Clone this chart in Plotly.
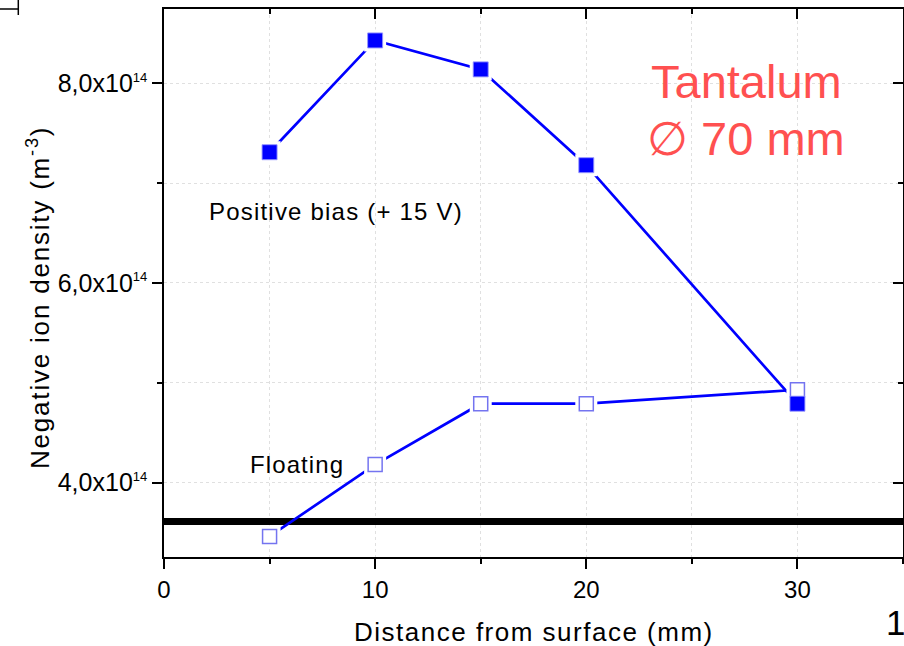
import plotly.graph_objects as go

# Measured negative ion density versus distance from the tantalum surface
distance_mm = [5, 10, 15, 20, 30]
positive_bias = [7.31e14, 8.43e14, 8.14e14, 7.18e14, 4.79e14]
floating = [3.46e14, 4.18e14, 4.79e14, 4.79e14, 4.93e14]

# Reference density level drawn across the whole distance range
ref_x = [0, 35]
ref_level = [3.61e14, 3.61e14]

y_tick_vals = [4e14, 6e14, 8e14]
y_tick_text = ["4,0x10", "6,0x10", "8,0x10"]
x_tick_vals = [0, 10, 20, 30]

FONT = "Liberation Sans, Arial, sans-serif"
BLUE = "#0000ff"
SUP = "<sup><span style='font-size:13px'>14</span></sup>"


def spaced(text, px):
    return f"<span style='letter-spacing:{px}px'>{text}</span>"


fig = go.Figure()

fig.add_trace(go.Scatter(
    x=ref_x, y=ref_level, mode="lines",
    line=dict(color="black", width=7), hoverinfo="skip"))

# connecting lines
for ys in (floating, positive_bias):
    fig.add_trace(go.Scatter(
        x=distance_mm, y=ys, mode="lines",
        line=dict(color=BLUE, width=2.7)))

# white halo that opens a small gap in the line around each symbol
for ys in (floating, positive_bias):
    fig.add_trace(go.Scatter(
        x=distance_mm, y=ys, mode="markers",
        marker=dict(symbol="square", size=22, color="white",
                    line=dict(width=0))))

fig.add_trace(go.Scatter(
    x=distance_mm, y=floating, mode="markers", name="Floating",
    marker=dict(symbol="square", size=14, color="white",
                line=dict(color="rgba(70,70,235,0.75)", width=1.5))))
fig.add_trace(go.Scatter(
    x=distance_mm, y=positive_bias, mode="markers", name="Positive bias",
    marker=dict(symbol="square", size=15, color=BLUE,
                line=dict(color="rgba(150,150,255,0.9)", width=1))))

# carrier for the mirrored top/right axes
fig.add_trace(go.Scatter(x=[], y=[], xaxis="x2", yaxis="y2"))

grid = dict(showgrid=True, gridcolor="#e0e0e0", griddash="dot", gridwidth=1)

fig.update_layout(
    width=904, height=646,
    margin=dict(l=164, r=1, t=9, b=89),
    paper_bgcolor="white", plot_bgcolor="white",
    showlegend=False,
    font=dict(family=FONT, color="black"),
    xaxis=dict(
        range=[0, 35], tickvals=x_tick_vals, ticks="outside", ticklen=10,
        tickwidth=1.5, tickcolor="black", showline=True, linecolor="black",
        linewidth=1.5, zeroline=False, tickfont=dict(size=24, family=FONT),
        minor=dict(dtick=5, tick0=0, ticks="outside", ticklen=5,
                   tickwidth=1.5, tickcolor="black", **grid),
        **grid),
    yaxis=dict(
        range=[3.254e14, 8.745e14], tickvals=y_tick_vals,
        ticktext=[t + SUP for t in y_tick_text], ticks="outside",
        ticklen=10, tickwidth=1.5, tickcolor="black", showline=True,
        linecolor="black", linewidth=1.5, zeroline=False,
        tickfont=dict(size=25, family=FONT),
        minor=dict(dtick=1e14, tick0=0, ticks="outside", ticklen=5,
                   tickwidth=1.5, tickcolor="black", **grid),
        **grid),
    xaxis2=dict(
        overlaying="x", side="top", anchor="y", range=[0, 35],
        tickvals=x_tick_vals, ticks="inside", ticklen=10, tickwidth=1.5,
        tickcolor="black", showticklabels=False, showline=True,
        linecolor="black", linewidth=1.5, showgrid=False, zeroline=False,
        minor=dict(dtick=5, tick0=0, ticks="inside", ticklen=5,
                   tickwidth=1.5, tickcolor="black")),
    yaxis2=dict(
        overlaying="y", side="right", anchor="x",
        range=[3.254e14, 8.745e14], tickvals=y_tick_vals, ticks="inside",
        ticklen=10, tickwidth=1.5, tickcolor="black", showticklabels=False,
        showline=True, linecolor="black", linewidth=1.5, showgrid=False,
        zeroline=False,
        minor=dict(dtick=1e14, tick0=0, ticks="inside", ticklen=5,
                   tickwidth=1.5, tickcolor="black")),
)

annotations = [
    dict(text=spaced("Positive bias (+ 15 V)", 1.2), x=2.04, y=6.72e14,
         xanchor="left", yanchor="middle", font=dict(size=24)),
    dict(text=spaced("Floating", 1.1), x=3.98, y=4.18e14,
         xanchor="left", yanchor="middle", font=dict(size=24)),
    dict(text="Tantalum", x=27.57, y=8.02e14, xanchor="center",
         yanchor="middle", font=dict(size=47, color="#ff5050")),
    dict(text="\u2205 70 mm", x=27.57, y=7.45e14, xanchor="center",
         yanchor="middle", font=dict(size=47, color="#ff5050")),
    dict(text=spaced("Distance from surface (mm)", 1.5), xref="paper",
         yref="paper", x=(534 - 164) / 739, y=1 - (632 - 9) / 548,
         xanchor="center", yanchor="middle", font=dict(size=26)),
    dict(text=spaced("Negative ion density (m<sup>-3</sup>)", 1.8),
         xref="paper", yref="paper", x=(38 - 164) / 739,
         y=1 - (298 - 9) / 548, textangle=-90, xanchor="center",
         yanchor="middle", font=dict(size=26)),
    dict(text="1", xref="paper", yref="paper", x=(895 - 164) / 739,
         y=1 - (622 - 9) / 548, xanchor="center", yanchor="middle",
         font=dict(size=35)),
]
for a in annotations:
    a.setdefault("showarrow", False)
    fig.add_annotation(**a)

# edge of the neighbouring panel frame in the top-left corner
fig.add_shape(type="line", xref="paper", yref="paper",
              x0=-164 / 739, x1=(18.3 - 164) / 739, y0=1, y1=1,
              line=dict(color="black", width=1.5))
fig.add_shape(type="line", xref="paper", yref="paper",
              x0=(18.3 - 164) / 739, x1=(18.3 - 164) / 739,
              y0=1 + 9 / 548, y1=1 - 6 / 548,
              line=dict(color="black", width=1.5))

fig.write_html("out.html")
